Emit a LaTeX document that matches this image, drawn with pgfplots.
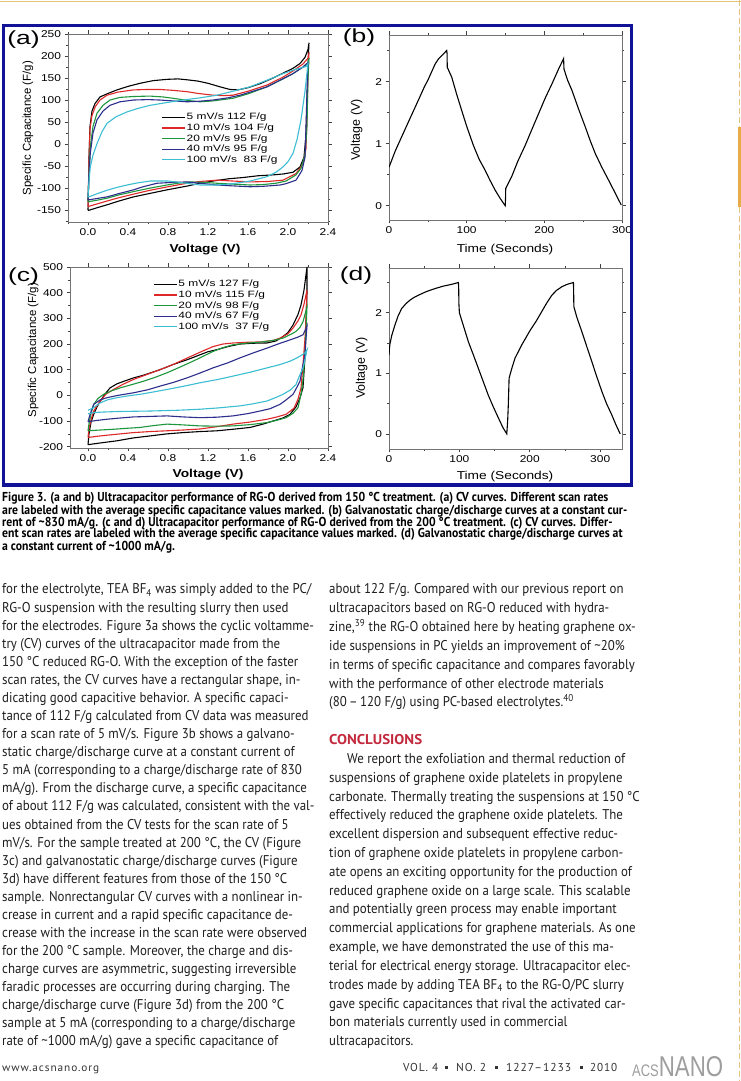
\documentclass[border=0pt]{standalone}
\usepackage{fontspec}
\usepackage{graphicx}
\usepackage{pgfplots}
\pgfplotsset{compat=1.18}
\setmainfont{Liberation Sans}
\newfontfamily\plotfont[FakeStretch=1.2]{Liberation Sans}
\newfontfamily\legfont[FakeStretch=1.3]{Liberation Sans}
\newfontfamily\ylabfont{Liberation Sans}
\newfontfamily\panelfont[FakeStretch=1.4]{Liberation Sans}
\newfontfamily\bodyfont[FakeStretch=0.91]{PT Sans}
\newfontfamily\capfont[FakeStretch=0.905]{PT Sans}
\newfontfamily\footfont[LetterSpace=8]{PT Sans}
\definecolor{cvred}{RGB}{222,40,40}
\definecolor{cvgreen}{RGB}{30,150,60}
\definecolor{cvnavy}{RGB}{45,45,140}
\definecolor{cvcyan}{RGB}{60,190,210}
\definecolor{framecol}{RGB}{18,18,150}
\definecolor{goldline}{RGB}{228,196,120}
\definecolor{goldband}{RGB}{232,172,70}
\definecolor{concl}{RGB}{196,42,62}
\pgfplotsset{
  panel/.style={scale only axis, anchor=south west, tick align=outside,
    major tick length=3.5bp, minor tick length=2bp,
    axis line style={black!55, line width=0.6bp},
    every tick/.style={black!75, line width=0.6bp},
    tick label style={font=\plotfont\fontsize{10}{12}\selectfont},
    xlabel style={font=\plotfont\fontsize{11.5}{13}\selectfont},
    legend cell align=left,
    legend image code/.code={\draw[##1, line width=1.1bp] (0bp,0bp) -- (23bp,0bp);},
    every axis plot/.append style={line width=1.1bp, no markers}},
  cvlegend/.style={legend style={draw=none, fill=none, inner sep=0pt, row sep=0pt,
    font=\legfont\fontsize{9.2}{10}\selectfont,
    nodes={inner sep=0.8pt, text height=7pt, text depth=2pt, font=\legfont\fontsize{9.2}{10}\selectfont}}}
}
\newcommand{\LL}[2]{\node[anchor=base west,inner sep=0pt] at (2,{594+18.08*#1}) {#2};}
\newcommand{\RL}[2]{\node[anchor=base west,inner sep=0pt] at (329,{594+18.82*#1}) {#2};}
\newcommand{\CL}[2]{\node[anchor=base west,inner sep=0pt] at (2,#1) {#2};}
\newcommand{\FT}[3]{\node[anchor=base west, inner sep=0pt, font=\footfont\fontsize{11.5}{12}\selectfont, text=black!80] at (#1,1072) {\resizebox{#2bp}{\height}{#3}};}
\begin{document}
\begin{tikzpicture}
\fill[white] (0,0) rectangle (741bp,1081bp);
\path[use as bounding box] (0,0) rectangle (741bp,1081bp);

% (a)
\begin{axis}[panel, cvlegend, at={(68bp,859bp)}, width=260bp, height=188bp,
  xmin=-0.2, xmax=2.4, ymin=-177, ymax=250,
  xtick={0,0.4,0.8,1.2,1.6,2.0,2.4}, xticklabels={0.0,0.4,0.8,1.2,1.6,2.0,2.4},
  minor xtick={-0.2,0.2,0.6,1.0,1.4,1.8,2.2},
  ytick={-150,-100,-50,0,50,100,150,200,250}, yticklabels={-150,-100,-50,0,50,100,150,200,250},
  minor ytick={-175,-125,-75,-25,25,75,125,175,225},
  xlabel={\bfseries Voltage (V)}, ylabel={Specific Capacitance (F/g)},
  xlabel style={at={(axis description cs:0.527,-0.149)}, anchor=center},
  ylabel style={at={(axis description cs:-0.154,0.5)}, anchor=center, font=\ylabfont\fontsize{11.5}{13}\selectfont},
  legend style={at={(0.36,0.585)}, anchor=north west}]
\addplot[black] coordinates {(0,-150)(0.005,-100)(0.01,-30)(0.02,40)(0.04,75)(0.07,92)(0.12,107)(0.2,115)(0.29,123)(0.4,131)(0.52,138)(0.65,144)(0.79,147)(0.9,148)(0.99,146)(1.1,143)(1.2,138)(1.32,130)(1.42,124)(1.5,123)(1.6,128)(1.72,137)(1.85,150)(1.95,161)(2.05,172)(2.12,183)(2.17,197)(2.2,215)(2.21,230)
(2.2,180)(2.19,100)(2.18,20)(2.16,-30)(2.12,-52)(2.05,-64)(1.95,-68)(1.85,-70)(1.7,-72)(1.55,-76)(1.4,-79)(1.25,-84)(1.12,-89)(1.0,-95)(0.79,-104)(0.6,-113)(0.455,-120)(0.3,-130)(0.19,-138)(0.1,-144)(0,-151)};
\addlegendentry{5 mV/s 112 F/g}
\addplot[cvred] coordinates {(0,-142)(0.005,-90)(0.012,-20)(0.02,35)(0.04,65)(0.073,85)(0.12,100)(0.19,111)(0.3,118)(0.455,123)(0.6,124)(0.72,124)(0.85,122)(0.99,119)(1.1,115)(1.25,111)(1.35,110)(1.45,111)(1.6,120)(1.79,134)(1.95,152)(2.05,166)(2.15,182)(2.2,195)(2.21,208)
(2.2,160)(2.19,60)(2.18,-10)(2.15,-45)(2.08,-67)(1.95,-82)(1.8,-85)(1.62,-86)(1.45,-84)(1.29,-82)(1.12,-85)(0.99,-89)(0.8,-97)(0.62,-105)(0.45,-114)(0.29,-123)(0.15,-132)(0,-142)};
\addlegendentry{10 mV/s 104 F/g}
\addplot[cvgreen] coordinates {(0,-131)(0.008,-80)(0.023,-6)(0.05,40)(0.09,70)(0.15,88)(0.22,100)(0.32,106)(0.455,108)(0.62,109)(0.75,107)(0.85,104)(1.0,99)(1.12,96)(1.25,98)(1.45,104)(1.6,114)(1.79,130)(1.95,148)(2.05,160)(2.15,175)(2.2,185)(2.21,195)
(2.2,150)(2.19,40)(2.17,-25)(2.13,-55)(2.08,-70)(1.98,-84)(1.88,-89)(1.75,-92)(1.62,-93)(1.45,-91)(1.29,-89)(1.15,-87)(1.02,-86)(0.9,-89)(0.79,-93)(0.62,-100)(0.455,-108)(0.3,-116)(0.19,-123)(0.08,-128)(0,-131)};
\addlegendentry{20 mV/s 95 F/g}
\addplot[cvnavy] coordinates {(0,-127)(0.01,-70)(0.023,-21)(0.05,25)(0.09,55)(0.15,75)(0.22,88)(0.32,96)(0.455,100)(0.6,101)(0.72,100)(0.85,98)(0.99,96)(1.1,97)(1.25,100)(1.4,105)(1.52,111)(1.65,120)(1.79,130)(1.92,145)(2.05,160)(2.15,175)(2.2,185)
(2.19,120)(2.18,40)(2.17,-30)(2.14,-60)(2.08,-82)(1.98,-90)(1.92,-93)(1.75,-96)(1.62,-97)(1.45,-95)(1.29,-93)(1.12,-89)(0.99,-86)(0.85,-87)(0.69,-89)(0.55,-97)(0.455,-104)(0.3,-113)(0.19,-120)(0.08,-124)(0,-127)};
\addlegendentry{40 mV/s 95 F/g}
\addplot[cvcyan] coordinates {(0,-120)(0.01,-85)(0.023,-52)(0.05,-25)(0.09,1)(0.14,28)(0.19,47)(0.28,62)(0.39,73)(0.5,81)(0.62,88)(0.78,94)(0.95,100)(1.12,105)(1.29,111)(1.45,120)(1.62,130)(1.79,145)(1.95,160)(2.08,170)(2.18,176)(2.2,183)
(2.17,120)(2.13,55)(2.09,10)(2.05,-21)(2.0,-40)(1.95,-52)(1.88,-64)(1.79,-74)(1.62,-84)(1.45,-90)(1.3,-93)(1.12,-93)(0.95,-88)(0.8,-84)(0.62,-84)(0.5,-88)(0.39,-93)(0.28,-99)(0.19,-105)(0.1,-112)(0.02,-119)(0,-120)};
\addlegendentry{100 mV/s\ \ 83 F/g}
\end{axis}

% (b)
\begin{axis}[panel, at={(389bp,861bp)}, width=233bp, height=185bp,
  xmin=0, xmax=300, ymin=-0.23, ymax=2.75,
  xtick={0,100,200,300}, xticklabels={0,100,200,300}, minor xtick={50,150,250},
  ytick={0,1,2}, yticklabels={0,1,2}, minor ytick={0.5,1.5,2.5},
  xlabel={Time (Seconds)}, ylabel={Voltage (V)},
  xlabel style={at={(axis description cs:0.498,-0.162)}, anchor=center},
  ylabel style={at={(axis description cs:-0.139,0.486)}, anchor=center, font=\ylabfont\fontsize{12.5}{14}\selectfont}]
\addplot[black] coordinates {(0,0.62)(8,0.88)(16.3,1.11)(25,1.35)(37.8,1.70)(45,1.90)(50.7,2.04)(55,2.16)(59.3,2.28)(64,2.37)(68,2.42)(72,2.47)(74.3,2.50)(74.8,2.45)(75,2.23)(80.8,2.07)(87,1.80)(93.7,1.53)(100,1.28)(108.7,0.97)(116,0.75)(123.8,0.57)(130,0.41)(136.7,0.25)(143,0.12)(149.6,0.0)(150,0.1)(150.3,0.28)(158,0.47)(166,0.72)(175.3,0.97)(184,1.23)(192.5,1.48)(201,1.73)(209.7,1.96)(218.3,2.20)(224.8,2.37)(225,2.30)(225.3,2.20)(230,2.02)(235.5,1.86)(244,1.56)(252.7,1.27)(259,1.05)(265.6,0.84)(274,0.62)(282.8,0.41)(291,0.21)(299.1,0.01)};
\end{axis}

% (c)
\begin{axis}[panel, cvlegend, at={(70bp,633bp)}, width=258bp, height=181bp,
  xmin=-0.18, xmax=2.4, ymin=-205, ymax=500,
  xtick={0,0.4,0.8,1.2,1.6,2.0,2.4}, xticklabels={0.0,0.4,0.8,1.2,1.6,2.0,2.4},
  minor xtick={0.2,0.6,1.0,1.4,1.8,2.2},
  ytick={-200,-100,0,100,200,300,400,500}, yticklabels={-200,-100,0,100,200,300,400,500},
  minor ytick={-150,-50,50,150,250,350,450},
  xlabel={\bfseries Voltage (V)}, ylabel={Specific Capacitance (F/g)},
  xlabel style={at={(axis description cs:0.535,-0.149)}, anchor=center},
  ylabel style={at={(axis description cs:-0.143,0.54)}, anchor=center, font=\ylabfont\fontsize{11.5}{13}\selectfont},
  legend style={at={(0.323,0.934)}, anchor=north west}]
\addplot[black] coordinates {(0,-192)(0.01,-150)(0.03,-105)(0.057,-74)(0.09,-45)(0.123,-22)(0.17,5)(0.22,29)(0.29,45)(0.36,55)(0.455,68)(0.55,78)(0.62,87)(0.72,100)(0.85,120)(1.0,140)(1.12,158)(1.2,170)(1.29,178)(1.4,190)(1.52,200)(1.65,203)(1.79,204)(1.88,212)(1.95,229)(2.0,245)(2.05,274)(2.1,315)(2.13,352)(2.16,410)(2.19,500)
(2.19,400)(2.18,287)(2.17,150)(2.15,30)(2.12,-10)(2.08,-45)(2.02,-74)(1.95,-88)(1.85,-100)(1.75,-112)(1.62,-125)(1.45,-132)(1.29,-138)(1.12,-141)(0.95,-145)(0.79,-150)(0.62,-158)(0.45,-166)(0.29,-177)(0.15,-184)(0,-192)};
\addlegendentry{5 mV/s 127 F/g}
\addplot[cvred] coordinates {(0,-164)(0.01,-130)(0.03,-95)(0.057,-61)(0.09,-40)(0.123,-22)(0.18,5)(0.256,23)(0.35,43)(0.455,62)(0.58,80)(0.72,100)(0.85,120)(0.99,145)(1.12,168)(1.25,190)(1.35,200)(1.45,204)(1.6,207)(1.72,208)(1.85,214)(1.92,223)(2.0,240)(2.05,262)(2.1,290)(2.13,313)(2.16,355)(2.19,410)
(2.18,300)(2.17,223)(2.15,120)(2.13,29)(2.1,-15)(2.06,-50)(1.98,-74)(1.88,-85)(1.79,-93)(1.62,-104)(1.45,-112)(1.29,-122)(1.12,-131)(0.95,-135)(0.79,-138)(0.62,-141)(0.455,-145)(0.22,-154)(0.1,-159)(0,-164)};
\addlegendentry{10 mV/s 115 F/g}
\addplot[cvgreen] coordinates {(0,-138)(0.01,-110)(0.03,-70)(0.057,-35)(0.1,-12)(0.156,4)(0.23,17)(0.32,29)(0.44,42)(0.555,55)(0.67,70)(0.79,88)(0.92,110)(1.05,133)(1.15,152)(1.25,171)(1.35,186)(1.45,197)(1.6,204)(1.72,207)(1.85,214)(1.95,223)(2.03,238)(2.08,249)(2.12,265)(2.15,287)(2.18,330)(2.19,345)
(2.18,250)(2.17,158)(2.15,60)(2.13,4)(2.1,-48)(2.05,-70)(1.98,-87)(1.88,-98)(1.79,-106)(1.62,-114)(1.45,-119)(1.29,-120)(1.12,-119)(0.95,-115)(0.79,-112)(0.65,-118)(0.52,-125)(0.4,-128)(0.256,-132)(0.12,-135)(0,-138)};
\addlegendentry{20 mV/s 98 F/g}
\addplot[cvnavy] coordinates {(0,-103)(0.02,-75)(0.057,-35)(0.12,-18)(0.19,-9)(0.3,0)(0.455,10)(0.6,22)(0.72,36)(0.85,50)(0.99,68)(1.12,87)(1.25,107)(1.4,127)(1.52,146)(1.65,165)(1.79,184)(1.9,200)(2.02,216)(2.1,227)(2.15,236)(2.18,260)(2.19,270)
(2.18,220)(2.17,158)(2.14,100)(2.12,55)(2.08,25)(2.05,4)(1.98,-18)(1.92,-35)(1.82,-52)(1.72,-61)(1.6,-71)(1.45,-80)(1.29,-85)(1.12,-87)(0.95,-84)(0.79,-80)(0.62,-82)(0.455,-84)(0.3,-89)(0.19,-93)(0.08,-98)(0,-103)};
\addlegendentry{40 mV/s 67 F/g}
\addplot[cvcyan] coordinates {(0,-58)(0.03,-53)(0.057,-48)(0.09,-38)(0.123,-29)(0.2,-17)(0.29,-9)(0.4,-2)(0.52,4)(0.65,13)(0.79,23)(0.95,35)(1.12,49)(1.3,62)(1.45,75)(1.62,90)(1.79,107)(1.92,120)(2.02,133)(2.1,148)(2.17,165)(2.19,178)
(2.17,140)(2.15,107)(2.11,72)(2.08,42)(2.02,20)(1.95,4)(1.88,-8)(1.79,-22)(1.65,-33)(1.52,-41)(1.3,-49)(1.12,-54)(0.9,-58)(0.62,-61)(0.45,-62)(0.29,-63)(0.15,-65)(0.057,-67)(0.02,-70)(0,-72)};
\addlegendentry{100 mV/s\ \ 37 F/g}
\end{axis}

% (d)
\begin{axis}[panel, at={(389bp,632bp)}, width=233bp, height=181bp,
  xmin=0, xmax=331, ymin=-0.25, ymax=2.74,
  xtick={0,100,200,300}, xticklabels={0,100,200,300}, minor xtick={50,150,250},
  ytick={0,1,2}, yticklabels={0,1,2}, minor ytick={0.5,1.5,2.5},
  xlabel={Time (Seconds)}, ylabel={Voltage (V)},
  xlabel style={at={(axis description cs:0.498,-0.153)}, anchor=center},
  ylabel style={at={(axis description cs:-0.117,0.447)}, anchor=center, font=\ylabfont\fontsize{12.5}{14}\selectfont}]
\addplot[black] coordinates {(0,1.30)(0.7,1.42)(1.4,1.49)(4,1.63)(8.5,1.80)(13,1.95)(18,2.07)(24,2.15)(29.9,2.21)(35,2.25)(41.7,2.29)(53,2.35)(65.4,2.40)(77,2.44)(89,2.47)(98.6,2.50)(99,2.40)(99.3,2.15)(100,2.00)(104,1.85)(112.8,1.52)(120,1.30)(127,1.08)(134,0.86)(141,0.64)(148,0.45)(155.5,0.26)(162,0.10)(167.3,0.0)(168.5,0.2)(169.5,0.48)(170.6,0.92)(174.4,1.08)(179,1.25)(188.6,1.47)(200.5,1.71)(209,1.86)(217,2.02)(224,2.16)(231.3,2.29)(238,2.37)(245.5,2.43)(253,2.47)(262,2.50)(262.3,2.35)(262.6,2.10)(267,1.92)(273.9,1.69)(281,1.44)(288.2,1.19)(295,0.95)(302.4,0.70)(309,0.50)(316.6,0.31)(322,0.16)(328.4,0.0)};
\end{axis}

\begin{scope}[yshift=1081bp, x=1bp, y=-1bp]
% page decorations
\draw[goldline, line width=0.8bp] (0,1) -- (741,1);
\draw[goldline, line width=1bp, dash pattern=on 6bp off 3bp] (739,0) -- (739,1081);
\fill[goldband] (738,127) rectangle (741,207);
% figure frame and panel labels
\draw[framecol, line width=3.6bp] (3.5,25.5) rectangle (631.5,485);
\begin{scope}[every node/.style={font=\panelfont\fontsize{19}{20}\selectfont, inner sep=0pt}]
\node at (23.5,40) {(a)};
\node at (359,38) {(b)};
\node at (23.5,277) {(c)};
\node at (356,276) {(d)};
\end{scope}
% caption
\begin{scope}[every node/.style={font=\capfont\bfseries\fontsize{13}{13}\selectfont}]
\CL{502}{Figure 3. (a and b) Ultracapacitor performance of RG-O derived from 150 °C treatment. (a) CV curves. Different scan rates}
\CL{514.3}{are labeled with the average specific capacitance values marked. (b) Galvanostatic charge/discharge curves at a constant cur-}
\CL{526.5}{rent of \textasciitilde830 mA/g. (c and d) Ultracapacitor performance of RG-O derived from the 200 °C treatment. (c) CV curves. Differ-}
\CL{538}{ent scan rates are labeled with the average specific capacitance values marked. (d) Galvanostatic charge/discharge curves at}
\CL{550.3}{a constant current of \textasciitilde1000 mA/g.}
\end{scope}
% body text
\begin{scope}[every node/.style={font=\bodyfont\fontsize{14.2}{17}\selectfont, text=black!88}]
\LL{0}{for the electrolyte, TEA BF\textsubscript{4} was simply added to the PC/}
\LL{1}{RG-O suspension with the resulting slurry then used}
\LL{2}{for the electrodes. Figure 3a shows the cyclic voltamme-}
\LL{3}{try (CV) curves of the ultracapacitor made from the}
\LL{4}{150 °C reduced RG-O. With the exception of the faster}
\LL{5}{scan rates, the CV curves have a rectangular shape, in-}
\LL{6}{dicating good capacitive behavior. A specific capaci-}
\LL{7}{tance of 112 F/g calculated from CV data was measured}
\LL{8}{for a scan rate of 5 mV/s. Figure 3b shows a galvano-}
\LL{9}{static charge/discharge curve at a constant current of}
\LL{10}{5 mA (corresponding to a charge/discharge rate of 830}
\LL{11}{mA/g). From the discharge curve, a specific capacitance}
\LL{12}{of about 112 F/g was calculated, consistent with the val-}
\LL{13}{ues obtained from the CV tests for the scan rate of 5}
\LL{14}{mV/s. For the sample treated at 200 °C, the CV (Figure}
\LL{15}{3c) and galvanostatic charge/discharge curves (Figure}
\LL{16}{3d) have different features from those of the 150 °C}
\LL{17}{sample. Nonrectangular CV curves with a nonlinear in-}
\LL{18}{crease in current and a rapid specific capacitance de-}
\LL{19}{crease with the increase in the scan rate were observed}
\LL{20}{for the 200 °C sample. Moreover, the charge and dis-}
\LL{21}{charge curves are asymmetric, suggesting irreversible}
\LL{22}{faradic processes are occurring during charging. The}
\LL{23}{charge/discharge curve (Figure 3d) from the 200 °C}
\LL{24}{sample at 5 mA (corresponding to a charge/discharge}
\LL{25}{rate of \textasciitilde1000 mA/g) gave a specific capacitance of}
\RL{0}{about 122 F/g. Compared with our previous report on}
\RL{1}{ultracapacitors based on RG-O reduced with hydra-}
\RL{2}{zine,\textsuperscript{39} the RG-O obtained here by heating graphene ox-}
\RL{3}{ide suspensions in PC yields an improvement of \textasciitilde20\%}
\RL{4}{in terms of specific capacitance and compares favorably}
\RL{5}{with the performance of other electrode materials}
\RL{6}{(80\,–\,120 F/g) using PC-based electrolytes.\textsuperscript{40}}
\RL{8}{\resizebox{93bp}{\height}{\textcolor{concl}{\bfseries CONCLUSIONS}}}
\RL{9}{\hspace{18bp}We report the exfoliation and thermal reduction of}
\RL{10}{suspensions of graphene oxide platelets in propylene}
\RL{11}{carbonate. Thermally treating the suspensions at 150 °C}
\RL{12}{effectively reduced the graphene oxide platelets. The}
\RL{13}{excellent dispersion and subsequent effective reduc-}
\RL{14}{tion of graphene oxide platelets in propylene carbon-}
\RL{15}{ate opens an exciting opportunity for the production of}
\RL{16}{reduced graphene oxide on a large scale. This scalable}
\RL{17}{and potentially green process may enable important}
\RL{18}{commercial applications for graphene materials. As one}
\RL{19}{example, we have demonstrated the use of this ma-}
\RL{20}{terial for electrical energy storage. Ultracapacitor elec-}
\RL{21}{trodes made by adding TEA BF\textsubscript{4} to the RG-O/PC slurry}
\RL{22}{gave specific capacitances that rival the activated car-}
\RL{23}{bon materials currently used in commercial}
\RL{24}{ultracapacitors.}
\end{scope}
% footer
\node[anchor=base west, inner sep=0pt, font=\footfont\fontsize{11}{12}\selectfont, text=black!80] at (2,1072) {\resizebox{97bp}{\height}{www.acsnano.org}};
\FT{403}{35}{VOL. 4}
\FT{456}{30}{NO. 2}
\FT{506}{65}{1227–1233}
\FT{590}{27}{2010}
\fill[black!80] (444.5,1066.5) rectangle (447.5,1069.5);
\fill[black!80] (494.5,1066.5) rectangle (497.5,1069.5);
\fill[black!80] (579.5,1066.5) rectangle (582.5,1069.5);
\node[anchor=south west, inner sep=0pt, text=black!38] at (632,1077) {\resizebox{91bp}{20bp}{\plotfont{\fontsize{14}{14}\selectfont ACS}{\fontsize{24}{24}\selectfont NANO}}};
\end{scope}
\end{tikzpicture}
\end{document}
